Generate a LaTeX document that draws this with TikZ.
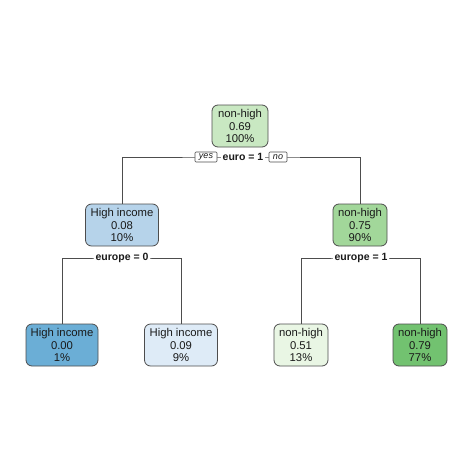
\documentclass[tikz,border=0pt]{standalone}
\usepackage{fontspec}
\setmainfont{Liberation Sans}
\definecolor{gA}{HTML}{C9E8C2}
\definecolor{gB}{HTML}{A2D79A}
\definecolor{gC}{HTML}{72C270}
\definecolor{gD}{HTML}{E9F6E4}
\definecolor{bA}{HTML}{B6D3EA}
\definecolor{bB}{HTML}{6BAED6}
\definecolor{bC}{HTML}{DEEBF7}
\definecolor{edge}{HTML}{4D4D4D}
\definecolor{txt}{HTML}{1A1A1A}
\tikzset{
  leaf/.style={draw=edge, line width=0.8pt, rounded corners=6pt, align=center,
    minimum height=42pt, inner sep=2pt, text=txt,
    font=\fontsize{11.3}{12.8}\selectfont},
  splitlbl/.style={fill=white, inner sep=1.5pt, text=txt,
    font=\fontsize{10.5}{12}\selectfont\bfseries},
  yesno/.style={draw=edge, fill=white, line width=0.6pt, rounded corners=1pt,
    inner xsep=4pt, inner ysep=1.2pt, minimum height=10pt,
    text=txt, font=\fontsize{9}{10}\selectfont\itshape},
  conn/.style={draw=edge, line width=0.8pt}
}
\begin{document}
\begin{tikzpicture}[x=1pt,y=-1pt]
\useasboundingbox (0,0) rectangle (474,474);
% nodes
\node[leaf, fill=gA, minimum width=56pt] (root) at (240,126) {non-high\\0.69\\100\%};
\node[leaf, fill=bA, minimum width=73pt] (L) at (122,225) {High income\\0.08\\10\%};
\node[leaf, fill=gB, minimum width=54pt] (R) at (360,225) {non-high\\0.75\\90\%};
\node[leaf, fill=bB, minimum width=72pt] (LL) at (62,345) {High income\\0.00\\1\%};
\node[leaf, fill=bC, minimum width=73pt] (LR) at (181,345) {High income\\0.09\\9\%};
\node[leaf, fill=gD, minimum width=54pt] (RL) at (301,345) {non-high\\0.51\\13\%};
\node[leaf, fill=gC, minimum width=54pt] (RR) at (420,345) {non-high\\0.79\\77\%};
% split coordinates
\coordinate (s0) at (241,157);
\coordinate (s1) at (122,258);
\coordinate (s2) at (360,258);
% connectors
\draw[conn] (L.north) |- (s0) -| (R.north);
\draw[conn] (LL.north) |- (s1) -| (LR.north);
\draw[conn] (RL.north) |- (s2) -| (RR.north);
% labels
\node[splitlbl] (e1) at (243,157) {euro = 1};
\node[yesno] (yes) at (206,157) {yes};
\node[yesno] (no) at (278,157) {no};
\node[splitlbl] (e2) at (122,258) {europe = 0};
\node[splitlbl] (e3) at (361,258) {europe = 1};
\end{tikzpicture}
\end{document}
